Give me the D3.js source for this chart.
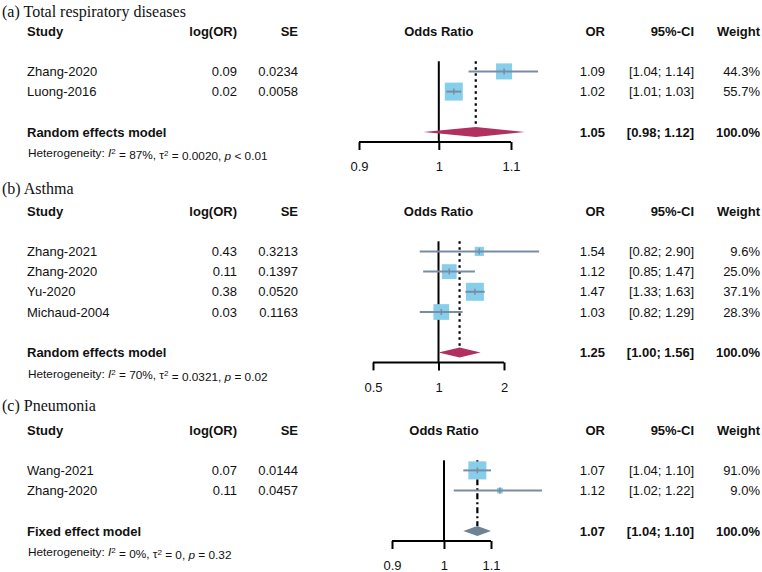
<!DOCTYPE html>
<html>
<head>
<meta charset="utf-8">
<script src="https://cdn.jsdelivr.net/npm/d3@7"></script>
<style>
  body { margin: 0; background: #fff; }
  svg text { font-family: "Liberation Sans", Arial, sans-serif; fill: #111; }
  .title { font-family: "Liberation Serif", "Times New Roman", serif; font-size: 16px; }
  .hdr { font-weight: bold; font-size: 13px; }
  .cell { font-size: 13px; }
  .het { font-size: 11.8px; }
</style>
</head>
<body>
<svg id="chart" width="762" height="572"></svg>
<script>
// (a) Total respiratory diseases
const studiesA = ["Zhang-2020", "Luong-2016"]
const logOrA = ["0.09", "0.02"]
const seA = ["0.0234", "0.0058"]
const orA = [1.09, 1.02]
const loA = [1.04, 1.01]
const hiA = [1.14, 1.03]
const weightA = [44.3, 55.7]
const summaryA = [1.05, 0.98, 1.12]   // OR, lower, upper
const hetA = ["87%", "0.0020", "< 0.01"]
const ticksA = [0.9, 1, 1.1]

// (b) Asthma
const studiesB = ["Zhang-2021", "Zhang-2020", "Yu-2020", "Michaud-2004"]
const logOrB = ["0.43", "0.11", "0.38", "0.03"]
const seB = ["0.3213", "0.1397", "0.0520", "0.1163"]
const orB = [1.54, 1.12, 1.47, 1.03]
const loB = [0.82, 0.85, 1.33, 0.82]
const hiB = [2.90, 1.47, 1.63, 1.29]
const weightB = [9.6, 25.0, 37.1, 28.3]
const summaryB = [1.25, 1.00, 1.56]
const hetB = ["70%", "0.0321", "= 0.02"]
const ticksB = [0.5, 1, 2]

// (c) Pneumonia
const studiesC = ["Wang-2021", "Zhang-2020"]
const logOrC = ["0.07", "0.11"]
const seC = ["0.0144", "0.0457"]
const orC = [1.07, 1.12]
const loC = [1.04, 1.02]
const hiC = [1.10, 1.22]
const weightC = [91.0, 9.0]
const summaryC = [1.07, 1.04, 1.10]
const hetC = ["0%", "0", "= 0.32"]
const ticksC = [0.9, 1, 1.1]

const panels = [
  { title: "(a) Total respiratory diseases", model: "Random effects model", random: true,
    studies: studiesA, logOr: logOrA, se: seA, or: orA, lo: loA, hi: hiA, w: weightA,
    sum: summaryA, het: hetA, ticks: ticksA,
    titleY: 11, headerY: 31, range: [359, 511] },
  { title: "(b) Asthma", model: "Random effects model", random: true,
    studies: studiesB, logOr: logOrB, se: seB, or: orB, lo: loB, hi: hiB, w: weightB,
    sum: summaryB, het: hetB, ticks: ticksB,
    titleY: 188, headerY: 211, range: [373, 504] },
  { title: "(c) Pneumonia", model: "Fixed effect model", random: false,
    studies: studiesC, logOr: logOrC, se: seC, or: orC, lo: loC, hi: hiC, w: weightC,
    sum: summaryC, het: hetC, ticks: ticksC,
    titleY: 405, headerY: 430, range: [392, 491] }
]

const rowH = 20.2
const col = { study: 27, logOr: 237, se: 298, or: 605, ci: 694, weight: 760 }
const squareColor = "#87CEEB", lineColor = "#7A8CA3"
const f2 = d3.format(".2f"), f1 = d3.format(".1f")

const svg = d3.select("#chart")

panels.forEach(p => {
  const g = svg.append("g")
  const x = d3.scaleLog().domain([p.ticks[0], p.ticks[p.ticks.length - 1]]).range(p.range)
  const rowY = i => p.headerY + rowH * (i + 2)
  const sumY = p.headerY + rowH * (p.studies.length + 3)
  const hetY = sumY + rowH + 1
  const axisY = sumY + 10
  const topY = rowY(0) - rowH / 2
  const maxW = d3.max(p.w)
  const side = d3.scaleSqrt().domain([0, maxW]).range([0, 18])

  g.append("text").attr("class", "title").attr("x", 2).attr("y", p.titleY).attr("dy", "0.35em").text(p.title)

  // headers
  const hdrs = [
    { t: "Study", x: col.study, a: "start" },
    { t: "log(OR)", x: col.logOr, a: "end" },
    { t: "SE", x: col.se, a: "end" },
    { t: "Odds Ratio", x: x(1), a: "middle" },
    { t: "OR", x: col.or, a: "end" },
    { t: "95%-CI", x: col.ci, a: "end" },
    { t: "Weight", x: col.weight, a: "end" }
  ]
  g.selectAll(".hdr").data(hdrs).enter().append("text")
    .attr("class", "hdr").attr("x", d => d.x).attr("y", p.headerY).attr("dy", "0.35em")
    .attr("text-anchor", d => d.a).text(d => d.t)

  // study rows
  const rows = p.studies.map((s, i) => ({
    s, i, logOr: p.logOr[i], se: p.se[i], or: p.or[i], lo: p.lo[i], hi: p.hi[i], w: p.w[i]
  }))
  const cells = [
    { x: col.study, a: "start", f: d => d.s },
    { x: col.logOr, a: "end", f: d => d.logOr },
    { x: col.se, a: "end", f: d => d.se },
    { x: col.or, a: "end", f: d => f2(d.or) },
    { x: col.ci, a: "end", f: d => `[${f2(d.lo)}; ${f2(d.hi)}]` },
    { x: col.weight, a: "end", f: d => f1(d.w) + "%" }
  ]
  cells.forEach(c => {
    g.selectAll(null).data(rows).enter().append("text")
      .attr("class", "cell").attr("x", c.x).attr("y", d => rowY(d.i)).attr("dy", "0.35em")
      .attr("text-anchor", c.a).text(c.f)
  })

  // summary row
  g.append("text").attr("class", "hdr").attr("x", col.study).attr("y", sumY).attr("dy", "0.35em").text(p.model)
  const sumCells = [
    { x: col.or, t: f2(p.sum[0]) },
    { x: col.ci, t: `[${f2(p.sum[1])}; ${f2(p.sum[2])}]` },
    { x: col.weight, t: "100.0%" }
  ]
  g.selectAll(null).data(sumCells).enter().append("text")
    .attr("class", "hdr").attr("x", d => d.x).attr("y", sumY).attr("dy", "0.35em")
    .attr("text-anchor", "end").text(d => d.t)

  // heterogeneity
  const het = g.append("text").attr("class", "het").attr("x", col.study + 1).attr("y", hetY).attr("dy", "0.35em")
  het.append("tspan").text("Heterogeneity: ")
  het.append("tspan").style("font-style", "italic").text("I")
  het.append("tspan").attr("dy", "-0.4em").style("font-size", "8px").text("2")
  het.append("tspan").attr("dy", "0.4em").text(` = ${p.het[0]}, τ`)
  het.append("tspan").attr("dy", "-0.4em").style("font-size", "8px").text("2")
  het.append("tspan").attr("dy", "0.4em").text(` = ${p.het[1]}, `)
  het.append("tspan").style("font-style", "italic").text("p")
  het.append("tspan").text(" " + p.het[2])

  // reference line at 1
  g.append("line").attr("x1", x(1)).attr("x2", x(1)).attr("y1", topY).attr("y2", axisY)
    .attr("stroke", "#000").attr("stroke-width", 2)

  // summary estimate line
  g.append("line").attr("x1", x(p.sum[0])).attr("x2", x(p.sum[0]))
    .attr("y1", topY).attr("y2", sumY - 5)
    .attr("stroke", "#000").attr("stroke-width", 2.2)
    .attr("stroke-dasharray", p.random ? "2.5,3.5" : "2,3,6,3")

  // squares
  g.selectAll(null).data(rows).enter().append("rect")
    .attr("x", d => x(d.or) - side(d.w) / 2).attr("y", d => rowY(d.i) - side(d.w) / 2)
    .attr("width", d => side(d.w)).attr("height", d => side(d.w))
    .attr("fill", squareColor)

  // CI lines
  g.selectAll(null).data(rows).enter().append("line")
    .attr("x1", d => x(d.lo)).attr("x2", d => x(d.hi))
    .attr("y1", d => rowY(d.i)).attr("y2", d => rowY(d.i))
    .attr("stroke", lineColor).attr("stroke-width", 2)
  g.selectAll(null).data(rows).enter().append("line")
    .attr("x1", d => x(d.or)).attr("x2", d => x(d.or))
    .attr("y1", d => rowY(d.i) - 3).attr("y2", d => rowY(d.i) + 3)
    .attr("stroke", lineColor).attr("stroke-width", 1.5)

  // diamond
  const dh = 5
  g.append("path")
    .attr("d", `M${x(p.sum[1])},${sumY} L${x(p.sum[0])},${sumY - dh} L${x(p.sum[2])},${sumY} L${x(p.sum[0])},${sumY + dh} Z`)
    .attr("fill", p.random ? "#B0305F" : "#6F8396")

  // axis
  const axis = g.append("g").attr("transform", `translate(0,${axisY})`)
    .call(d3.axisBottom(x).tickValues(p.ticks).tickFormat(d => d).tickSize(8).tickSizeOuter(0).tickPadding(12))
  axis.select(".domain").attr("stroke", "#000").attr("stroke-width", 2).attr("d", `M${p.range[0]},0H${p.range[1]}`)
  axis.selectAll(".tick line").attr("stroke", "#000").attr("stroke-width", 2)
  axis.selectAll(".tick text").attr("font-family", "Liberation Sans, Arial, sans-serif").attr("font-size", 13).attr("fill", "#111")
})
</script>
</body>
</html>
